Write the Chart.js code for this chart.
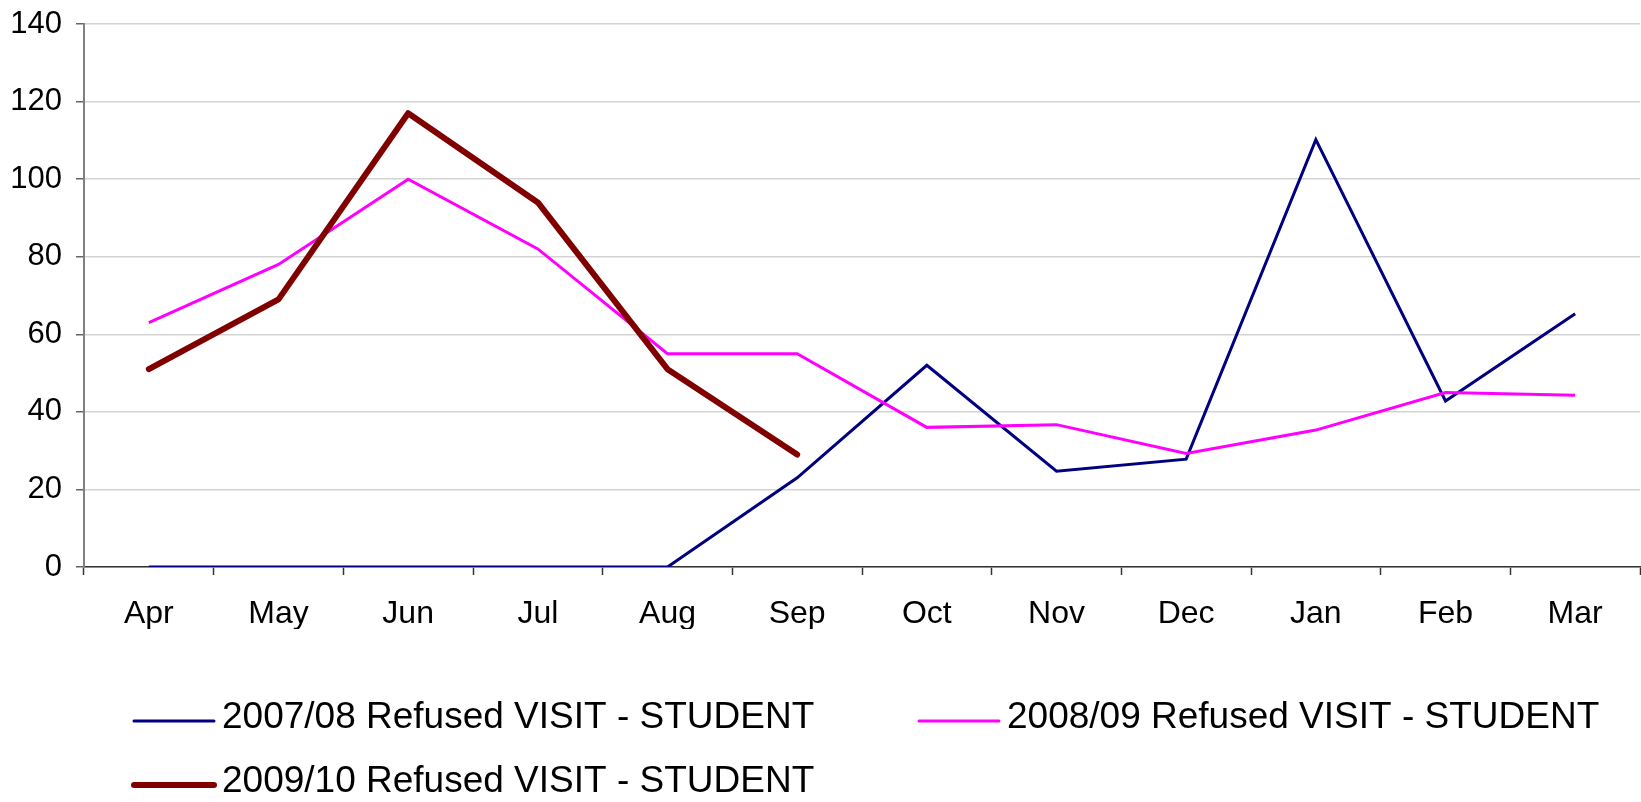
<!DOCTYPE html>
<html><head><meta charset="utf-8">
<script src="https://cdn.jsdelivr.net/npm/chart.js@4"></script>
<style>html,body{margin:0;padding:0;background:#fff}#wrap{width:1641px;height:802px;position:relative}</style>
</head><body><div id="wrap"><canvas id="c" width="1641" height="802"></canvas></div>
<script>
const months = ["Apr","May","Jun","Jul","Aug","Sep","Oct","Nov","Dec","Jan","Feb","Mar"];
const s0708 = [0,0,0,0,0,23,52,24.7,27.8,110.2,42.8,65.3];
const s0809 = [63,78,100,82,55,55,36,36.7,29.3,35.3,45,44.3];
const s0910 = [51,69,117,94,51,29,null,null,null,null,null,null];
const seriesLabels = ["2007/08 Refused VISIT - STUDENT","2008/09 Refused VISIT - STUDENT","2009/10 Refused VISIT - STUDENT"];
const yMin = 0, yMax = 140, yStep = 20;

const FONT = '"Liberation Sans", Arial, sans-serif';

const legendPlugin = {
  id: 'customLegend',
  afterDraw(chart) {
    const ctx = chart.ctx;
    const pos = [[134, 718], [919, 718], [134, 782]];
    chart.data.datasets.forEach((ds, i) => {
      const [x, y] = pos[i];
      ctx.save();
      ctx.strokeStyle = ds.borderColor;
      ctx.lineWidth = ds.borderWidth;
      ctx.lineCap = 'round';
      ctx.beginPath();
      ctx.moveTo(x, y + 3);
      ctx.lineTo(x + 80, y + 3);
      ctx.stroke();
      ctx.fillStyle = '#000';
      ctx.font = '37px ' + FONT;
      ctx.textBaseline = 'middle';
      ctx.textAlign = 'left';
      ctx.fillText(ds.label, x + 88, y);
      ctx.restore();
    });
  }
};

new Chart(document.getElementById('c'), {
  type: 'line',
  data: {
    labels: months,
    datasets: [
      { label: seriesLabels[0], data: s0708, borderColor: '#000080', backgroundColor: '#000080', borderWidth: 3, order: 2 },
      { label: seriesLabels[1], data: s0809, borderColor: '#FF00FF', backgroundColor: '#FF00FF', borderWidth: 3, order: 1 },
      { label: seriesLabels[2], data: s0910, borderColor: '#800000', backgroundColor: '#800000', borderWidth: 6, order: 0, borderCapStyle: 'round', borderJoinStyle: 'round' }
    ]
  },
  options: {
    responsive: false,
    animation: false,
    devicePixelRatio: 1,
    spanGaps: false,
    elements: { point: { radius: 0, hoverRadius: 0 }, line: { tension: 0 } },
    layout: { padding: { top: 24, right: 1, bottom: 173, left: 0 } },
    plugins: { legend: { display: false }, tooltip: { enabled: false }, title: { display: false } },
    scales: {
      x: {
        offset: true,
        grid: { display: true, drawOnChartArea: false, drawTicks: true, tickLength: 8, offset: true, tickColor: '#333', tickWidth: 1.5 },
        border: { display: true, color: '#333', width: 1.5 },
        ticks: { font: { family: FONT, size: 32 }, color: '#000', padding: 20, maxRotation: 0, autoSkip: false },
        afterFit(scale) { scale.height = 62; }
      },
      y: {
        min: yMin, max: yMax,
        grid: { color: '#d3d3d3', lineWidth: 1.5, tickLength: 8, tickColor: '#666' },
        border: { display: true, color: '#808080', width: 2 },
        ticks: { stepSize: yStep, font: { family: FONT, size: 31 }, color: '#000', padding: 14 },
        afterFit(scale) { scale.width = 84; scale.paddingTop = 0; scale.paddingBottom = 0; }
      }
    }
  },
  plugins: [legendPlugin]
});
</script>
</body></html>
